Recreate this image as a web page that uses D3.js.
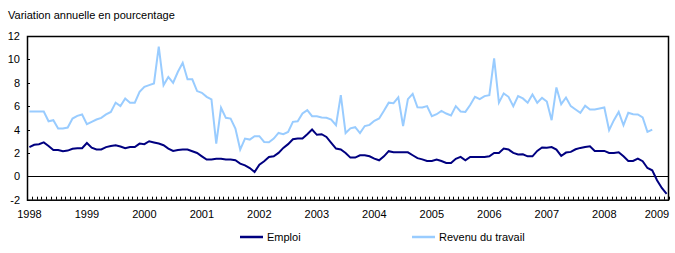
<!DOCTYPE html>
<html>
<head>
<meta charset="utf-8">
<script src="https://cdn.jsdelivr.net/npm/d3@7"></script>
<style>
  body { margin: 0; background: #fff; }
  text { font-family: "Liberation Sans", Arial, sans-serif; fill: #000; }
</style>
</head>
<body>
<div id="chart"></div>
<script>
// monthly categories, Jan 1998 .. Feb 2009
var yearLabels = ["1998","1999","2000","2001","2002","2003","2004","2005","2006","2007","2008","2009"]
var monthNames = ["01","02","03","04","05","06","07","08","09","10","11","12"]
var months = []
yearLabels.forEach(function(y) { monthNames.forEach(function(m) { months.push(y + "-" + m) }) })
months = months.slice(0, 134)

var yTicks = [-2, 0, 2, 4, 6, 8, 10, 12]

// Emploi, year-over-year % change
var emploi = [
  2.5, 2.7, 2.75, 2.9, 2.6, 2.25, 2.25, 2.15, 2.2, 2.35, 2.4, 2.4,
  2.85, 2.45, 2.3, 2.3, 2.5, 2.6, 2.65, 2.55, 2.4, 2.5, 2.5, 2.8,
  2.75, 3.0, 2.9, 2.8, 2.66, 2.37, 2.17, 2.25, 2.29, 2.29, 2.14, 2.0,
  1.71, 1.43, 1.43, 1.51, 1.51, 1.43, 1.43, 1.37, 1.09, 0.94, 0.71, 0.37,
  1.0, 1.29, 1.66, 1.71, 2.0, 2.43, 2.75, 3.17, 3.23, 3.23, 3.6, 4.0,
  3.55, 3.6, 3.37, 2.86, 2.37, 2.29, 2.0, 1.6, 1.6, 1.8, 1.8, 1.71,
  1.51, 1.37, 1.71, 2.15, 2.05, 2.05, 2.05, 2.05, 1.8, 1.55, 1.45, 1.31,
  1.31, 1.43, 1.31, 1.14, 1.14, 1.5, 1.66, 1.37, 1.66, 1.66, 1.66, 1.66,
  1.71, 2.0, 2.0, 2.37, 2.29, 2.0, 1.86, 1.89, 1.71, 1.71, 2.17, 2.46,
  2.45, 2.5, 2.29, 1.74, 2.03, 2.09, 2.31, 2.43, 2.51, 2.57, 2.17, 2.17,
  2.17, 2.0, 2.0, 2.06, 1.71, 1.31, 1.31, 1.51, 1.29, 0.71, 0.51, -0.34,
  -1.0, -1.5
]

// Revenu du travail, year-over-year % change (to Nov 2008)
var revenu = [
  5.54, 5.54, 5.54, 5.54, 4.71, 4.8, 4.09, 4.09, 4.17, 4.94, 5.17, 5.29,
  4.46, 4.66, 4.86, 5.0, 5.29, 5.5, 6.3, 6.0, 6.65, 6.3, 6.3, 7.23,
  7.66, 7.8, 7.94, 11.1, 7.8, 8.5, 8.0, 8.94, 9.71, 8.3, 8.3, 7.29,
  7.14, 6.8, 6.57, 2.8, 5.86, 5.0, 4.94, 4.09, 2.29, 3.23, 3.14, 3.43,
  3.43, 2.94, 2.91, 3.23, 3.71, 3.6, 3.8, 4.66, 4.71, 5.37, 5.66, 5.14,
  5.14, 5.03, 5.0, 4.86, 4.37, 6.94, 3.7, 4.1, 4.2, 3.7, 4.3, 4.4,
  4.75, 4.95, 5.6, 6.3, 6.25, 6.75, 4.3, 6.6, 7.05, 5.9, 5.89, 6.0,
  5.14, 5.31, 5.6, 5.37, 5.2, 6.0, 5.55, 5.51, 6.1, 6.8, 6.6, 6.86,
  6.94, 10.09, 6.3, 7.09, 6.8, 6.0, 6.86, 6.66, 6.29, 7.0, 6.29, 6.71,
  6.4, 4.8, 7.6, 6.17, 6.74, 6.0, 5.71, 5.43, 6.03, 5.71, 5.71, 5.8,
  5.89, 3.94, 4.8, 5.51, 4.37, 5.43, 5.31, 5.29, 5.03, 3.8, 4.0
]

var seriesNames = ["Emploi", "Revenu du travail"]
var seriesColors = ["#000080", "#99ccff"]

var width = 675
var height = 253
var plotLeft = 27, plotRight = 669, plotTop = 36, plotBottom = 199.7

var svg = d3.select("#chart")
  .append("svg")
    .attr("width", width)
    .attr("height", height)

var x = d3.scaleBand().domain(d3.range(months.length)).range([plotLeft, plotRight]).padding(0)
var y = d3.scaleLinear().domain([-2, 12]).range([plotBottom, plotTop])
var cx = function(i) { return x(i) + x.bandwidth() / 2 }

// axis title
svg.append("text")
  .attr("x", 8)
  .attr("y", 19)
  .style("font-size", "11px")
  .text("Variation annuelle en pourcentage")

// frame
svg.append("rect")
  .attr("x", plotLeft + 0.5)
  .attr("y", plotTop + 0.5)
  .attr("width", plotRight - plotLeft - 1)
  .attr("height", plotBottom - plotTop)
  .attr("fill", "none")
  .attr("stroke", "#000")
  .attr("stroke-width", 1.5)

// y axis: inside ticks, labels on the left
var yAxis = svg.append("g").attr("transform", "translate(" + plotLeft + ",0)")
yAxis.selectAll("line")
  .data(yTicks)
  .enter().append("line")
    .attr("x1", 0).attr("x2", 3)
    .attr("y1", function(d) { return Math.round(y(d)) + 0.5 })
    .attr("y2", function(d) { return Math.round(y(d)) + 0.5 })
    .attr("stroke", "#000")
yAxis.selectAll("text")
  .data(yTicks)
  .enter().append("text")
    .attr("x", -7)
    .attr("y", function(d) { return y(d) + 4 })
    .attr("text-anchor", "end")
    .style("font-size", "11px")
    .text(function(d) { return d })

// x axis: month ticks upward, year labels
var xAxis = svg.append("g")
xAxis.selectAll("line")
  .data(d3.range(months.length + 1))
  .enter().append("line")
    .attr("x1", function(i) { return Math.round(plotLeft + i * x.bandwidth()) + 0.5 })
    .attr("x2", function(i) { return Math.round(plotLeft + i * x.bandwidth()) + 0.5 })
    .attr("y1", plotBottom)
    .attr("y2", plotBottom - 3)
    .attr("stroke", "#000")
xAxis.selectAll("text")
  .data(yearLabels)
  .enter().append("text")
    .attr("x", function(d, k) { return Math.min(cx(k * 12), plotRight - 12) })
    .attr("y", 218)
    .attr("text-anchor", "middle")
    .style("font-size", "11px")
    .text(function(d) { return d })

// zero line
svg.append("line")
  .attr("x1", plotLeft).attr("x2", plotRight)
  .attr("y1", Math.round(y(0)) + 0.5).attr("y2", Math.round(y(0)) + 0.5)
  .attr("stroke", "#000")

var line = d3.line()
  .x(function(d, i) { return cx(i) })
  .y(function(d) { return y(d) })

svg.append("path")
  .datum(revenu)
  .attr("d", line)
  .attr("fill", "none")
  .attr("stroke", seriesColors[1])
  .attr("stroke-width", 2)

svg.append("path")
  .datum(emploi)
  .attr("d", line)
  .attr("fill", "none")
  .attr("stroke", seriesColors[0])
  .attr("stroke-width", 2)

// legend
var legendX = [240, 412]
var legend = svg.selectAll(".legend")
  .data(seriesNames)
  .enter().append("g")
    .attr("transform", function(d, k) { return "translate(" + legendX[k] + ",237)" })
legend.append("line")
  .attr("x1", 0).attr("x2", 23)
  .attr("stroke", function(d, k) { return seriesColors[k] })
  .attr("stroke-width", 2.5)
legend.append("text")
  .attr("x", 27)
  .attr("y", 4)
  .style("font-size", "11px")
  .text(function(d) { return d })
</script>
</body>
</html>
